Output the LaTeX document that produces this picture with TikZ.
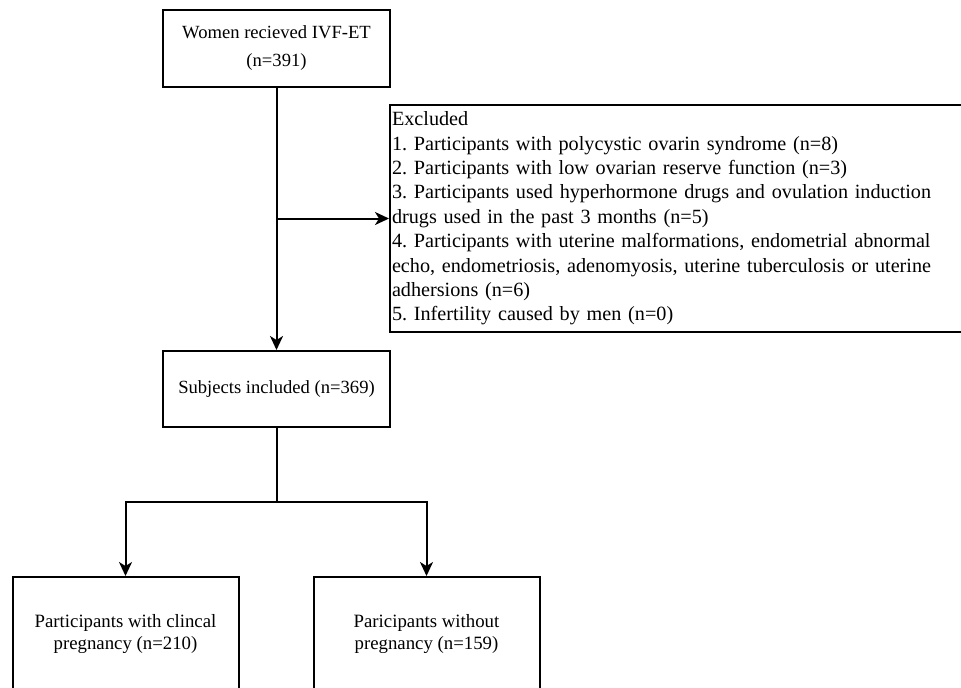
\documentclass[tikz,border=0pt]{standalone}
\usepackage{fontspec}
\setmainfont{Liberation Serif}
\usetikzlibrary{arrows.meta}

\tikzstyle{box} = [draw,line width=1pt,rectangle,inner sep=2pt,align=center]
\tikzstyle{boxtext} = [font=\fontsize{9.3}{14}\selectfont]
\tikzstyle{listtext} = [font=\fontsize{10.1}{12.2}\selectfont\frenchspacing]
\tikzstyle{plain edge} = [draw,line width=1pt,-]
\tikzstyle{flow} = [draw,line width=1pt,-{Stealth[length=7pt,width=6.5pt,inset=2pt]}]

\begin{document}
\begin{tikzpicture}[x=0.5pt,y=-0.5pt]
      \useasboundingbox (0,0) rectangle (961,687);
      % nodes
      \node[box, boxtext, minimum width=113.5pt, minimum height=38.5pt] (women) at (276.5,48.5)
        {Women recieved IVF-ET\\(n=391)};
      \node[box, listtext, anchor=west, text width=285.5pt, inner xsep=1pt, align=left,
            minimum height=113.5pt] (excl) at (389,218.5)
        {Excluded\\
         1. Participants with polycystic ovarin syndrome (n=8)\\
         2. Participants with low ovarian reserve function (n=3)\\
         3. Participants used hyperhormone drugs and ovulation induction\\
         drugs used in the past 3 months (n=5)\\
         4. Participants with uterine malformations, endometrial abnormal\\
         echo, endometriosis, adenomyosis, uterine tuberculosis or uterine\\
         adhersions (n=6)\\
         5. Infertility caused by men (n=0)};
      \node[box, boxtext, minimum width=113.5pt, minimum height=38pt] (subj) at (276.5,389)
        {Subjects included (n=369)};
      \foreach \nodename/\x/\label in {
        preg/125.5/{Participants with clincal\\pregnancy (n=210)},
        nopreg/426.5/{Paricipants without\\pregnancy (n=159)}}
      {
        \node[box, font=\fontsize{9.4}{11}\selectfont, minimum width=113pt, minimum height=57pt]
          (\nodename) at (\x,634) {\label};
      };
      \coordinate (fork) at (276.5,502);
      %edges
      \draw[flow] (women.south) -- (subj.north);
      \draw[flow] (women.south |- excl.west) -- (excl.west);
      \draw[plain edge] (subj.south) -- (fork);
      \foreach \endnode in {preg, nopreg}
      {
        \draw[flow] (fork) -| (\endnode.north);
      };
\end{tikzpicture}
\end{document}
